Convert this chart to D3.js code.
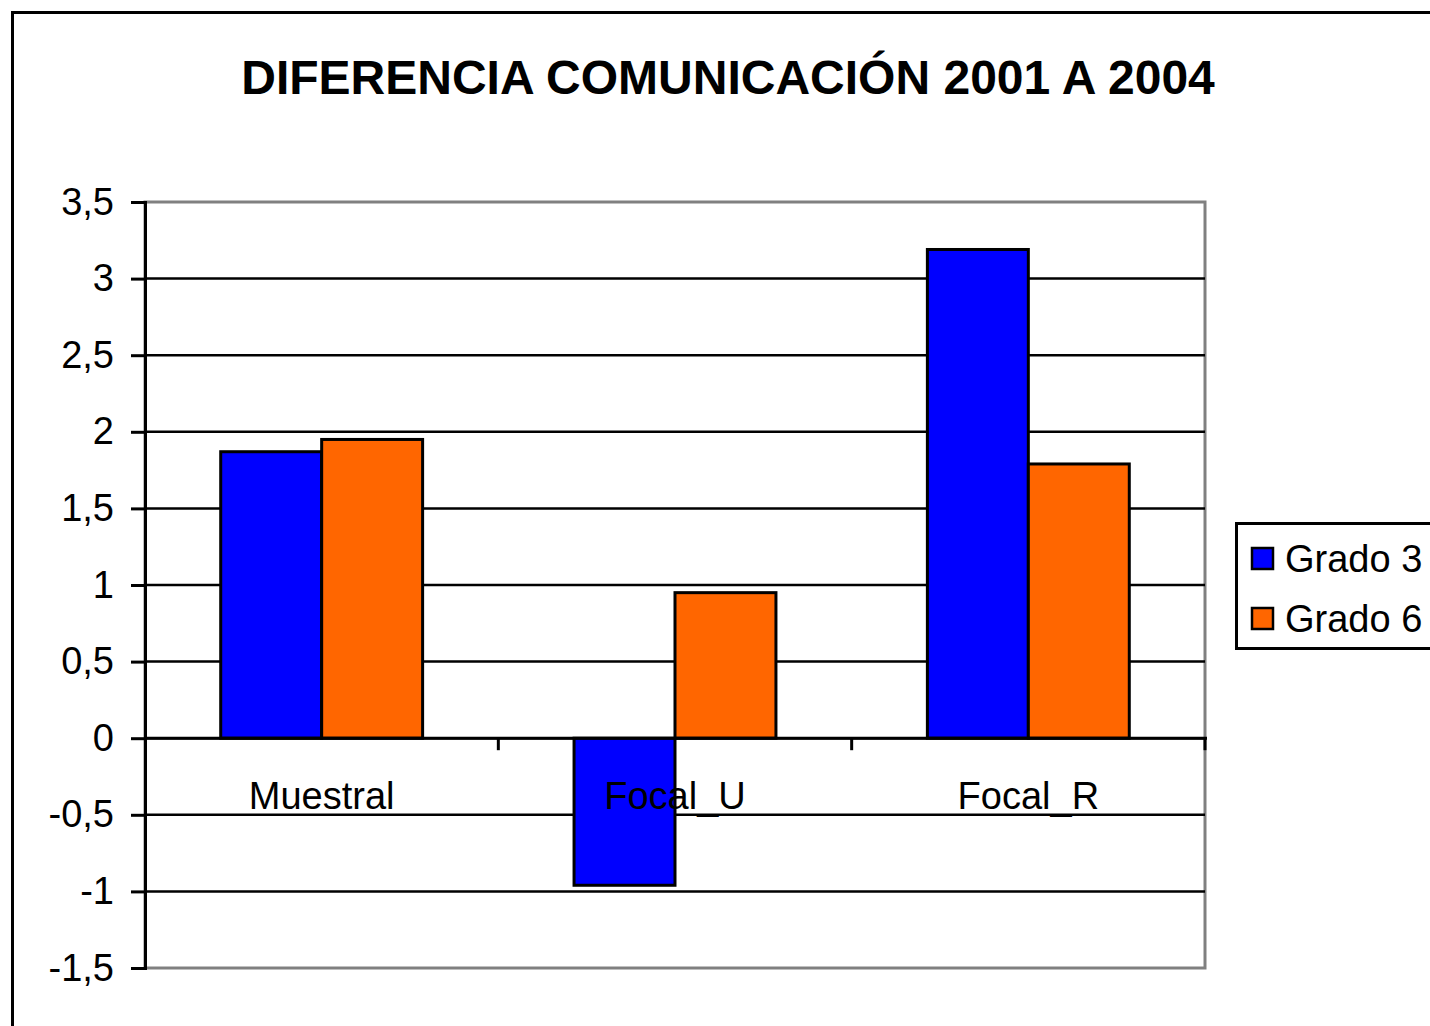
<!DOCTYPE html>
<html>
<head>
<meta charset="utf-8">
<script src="https://cdn.jsdelivr.net/npm/d3@7"></script>
<style>
  body { margin: 0; background: #fff; }
  svg { display: block; font-family: "Liberation Sans", Arial, sans-serif; }
</style>
</head>
<body>
<svg width="1430" height="1026"></svg>
<script>
// data
const categories = ["Muestral", "Focal_U", "Focal_R"];
const seriesNames = ["Grado 3", "Grado 6"];
const grado3 = [1.87, -0.96, 3.19];
const grado6 = [1.95, 0.95, 1.79];
const yTicks = [-1.5, -1, -0.5, 0, 0.5, 1, 1.5, 2, 2.5, 3, 3.5];
const colors = ["#0000ff", "#ff6600"];

const width = 1430;
const height = 1026;
const plot = { left: 145, right: 1205, top: 202, bottom: 968 };

const svg = d3.select("svg");

// outer chart border (runs off the right and bottom edge)
svg.append("rect")
   .attr("x", 12.5).attr("y", 12.5)
   .attr("width", 1440).attr("height", 1040)
   .attr("fill", "none")
   .attr("stroke", "#000")
   .attr("stroke-width", 3);

// title
svg.append("text")
   .attr("x", 728).attr("y", 94)
   .attr("text-anchor", "middle")
   .attr("font-weight", "bold")
   .attr("font-size", 48)
   .text("DIFERENCIA COMUNICACIÓN 2001 A 2004");

const yScale = d3.scaleLinear()
    .domain([-1.5, 3.5])
    .range([plot.bottom, plot.top]);

const xScale = d3.scaleBand()
    .domain(categories)
    .range([plot.left, plot.right]);

// gap width 150% like the original
const barW = xScale.bandwidth() / 3.5;
const fmt = v => String(v).replace(".", ",");

// plot area frame (grey)
svg.append("rect")
   .attr("x", plot.left).attr("y", plot.top)
   .attr("width", plot.right - plot.left)
   .attr("height", plot.bottom - plot.top)
   .attr("fill", "none")
   .attr("stroke", "#808080")
   .attr("stroke-width", 3);

// gridlines
svg.append("g")
   .selectAll("line")
   .data(yTicks.filter(t => t > -1.5 && t < 3.5))
   .enter()
   .append("line")
   .attr("x1", plot.left).attr("x2", plot.right)
   .attr("y1", d => yScale(d)).attr("y2", d => yScale(d))
   .attr("stroke", "#000")
   .attr("stroke-width", 2.5);

// bars
const rows = categories.map((c, i) => [grado3[i], grado6[i]]);
const groups = svg.append("g")
   .selectAll("g")
   .data(rows)
   .enter()
   .append("g")
   .attr("transform", (d, i) => `translate(${xScale(categories[i]) + xScale.bandwidth() / 2 - barW}, 0)`);

groups.selectAll("rect")
   .data(d => d)
   .enter()
   .append("rect")
   .attr("x", (d, j) => j * barW)
   .attr("y", d => yScale(Math.max(0, d)))
   .attr("width", barW)
   .attr("height", d => Math.abs(yScale(d) - yScale(0)))
   .attr("fill", (d, j) => colors[j])
   .attr("stroke", "#000")
   .attr("stroke-width", 3);

// y axis
const yAxis = d3.axisLeft(yScale)
    .tickValues(yTicks)
    .tickFormat(fmt)
    .tickSize(14)
    .tickPadding(17);

const yg = svg.append("g")
   .attr("transform", `translate(${plot.left}, 0)`)
   .call(yAxis);
yg.select(".domain").attr("stroke", "#000").attr("stroke-width", 3);
yg.selectAll(".tick line").attr("stroke", "#000").attr("stroke-width", 3);
yg.selectAll(".tick text")
  .attr("font-size", 38)
  .attr("font-family", "Liberation Sans, Arial, sans-serif")
  .attr("fill", "#000");

// x axis at zero, tick marks between categories
const xg = svg.append("g")
   .attr("transform", `translate(0, ${yScale(0)})`);
xg.append("line")
  .attr("x1", plot.left).attr("x2", plot.right + 2)
  .attr("stroke", "#000").attr("stroke-width", 3);
xg.selectAll("line.tk")
  .data(categories)
  .enter()
  .append("line")
  .attr("class", "tk")
  .attr("x1", d => xScale(d) + xScale.bandwidth())
  .attr("x2", d => xScale(d) + xScale.bandwidth())
  .attr("y1", 0).attr("y2", 12)
  .attr("stroke", "#000").attr("stroke-width", 3);
xg.selectAll("text")
  .data(categories)
  .enter()
  .append("text")
  .attr("x", d => xScale(d) + xScale.bandwidth() / 2)
  .attr("y", 71)
  .attr("text-anchor", "middle")
  .attr("font-size", 38)
  .text(d => d);

// legend
const lg = svg.append("g");
lg.append("rect")
  .attr("x", 1236.5).attr("y", 523.5)
  .attr("width", 200).attr("height", 125)
  .attr("fill", "#fff")
  .attr("stroke", "#000").attr("stroke-width", 3);
seriesNames.forEach((s, i) => {
  lg.append("rect")
    .attr("x", 1252).attr("y", 548 + i * 60)
    .attr("width", 21).attr("height", 21)
    .attr("fill", colors[i])
    .attr("stroke", "#000").attr("stroke-width", 2.5);
  lg.append("text")
    .attr("x", 1285).attr("y", 572 + i * 60)
    .attr("font-size", 38)
    .text(s);
});
</script>
</body>
</html>
